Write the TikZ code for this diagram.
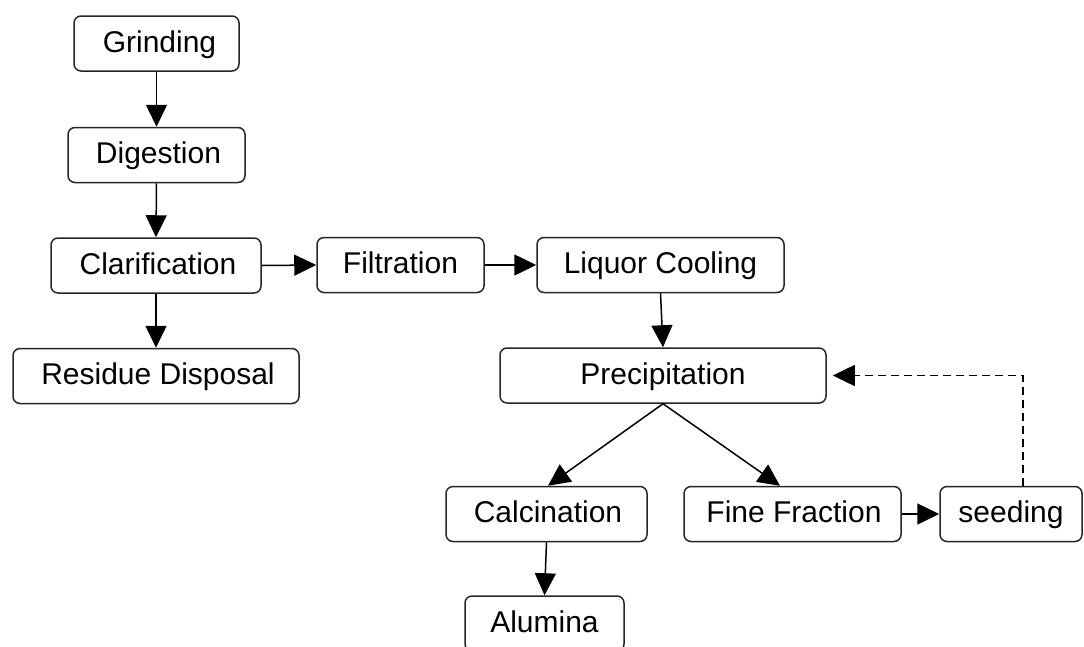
\documentclass[tikz,border=0pt]{standalone}
\usepackage{fontspec}
\setmainfont{Liberation Sans}
\usetikzlibrary{arrows.meta,calc}
\begin{document}
\begin{tikzpicture}[x=1pt,y=-1pt,
  box/.style={draw=black!85, line width=1.5pt, rounded corners=7pt, fill=white,
    minimum height=55pt, inner sep=0pt, text height=21.5pt, text depth=4.5pt,
    font=\fontsize{30}{36}\selectfont},
  flow/.style={line width=1.5pt, -{Triangle[length=22pt,width=21pt]}},
  feedback/.style={line width=1.5pt, dash pattern=on 8pt off 5pt, -{Triangle[length=22pt,width=21pt]}}]
\useasboundingbox (0,0) rectangle (1084,646);
\node[box, minimum width=165pt] (grinding) at (156.5,43.5) {\hspace{6pt}Grinding};
\node[box, minimum width=177pt] (digestion) at (156.5,155) {\hspace{4pt}Digestion};
\node[box, minimum width=210pt] (clarification) at (156,265.5) {\hspace{4pt}Clarification};
\node[box, minimum width=286pt] (residue) at (156,376) {\hspace{4pt}Residue Disposal};
\node[box, minimum width=167pt] (filtration) at (400.5,265) {Filtration};
\node[box, minimum width=247pt] (liquor) at (660.5,265) {Liquor Cooling};
\node[box, minimum width=326pt] (precipitation) at (663,375.5) {Precipitation};
\node[box, minimum width=201pt] (calcination) at (546.5,514) {\hspace{3pt}Calcination};
\node[box, minimum width=217pt] (fine) at (792.5,514) {\hspace{3pt}Fine Fraction};
\node[box, minimum width=142pt] (seeding) at (1011,514) {seeding};
\node[box, minimum width=159pt] (alumina) at (544.5,623.5) {Alumina};
\draw[flow] (grinding.south) -- (digestion.north);
\draw[flow] (digestion.south) -- (clarification.north);
\draw[flow] (clarification.south) -- (residue.north);
\draw[flow] (clarification.east) -- (filtration.west);
\draw[flow] (filtration.east) -- (liquor.west);
\draw[flow] (liquor.south) -- (precipitation.north);
\draw[flow] (precipitation.south) -- ([xshift=1.5pt]calcination.north);
\draw[flow] (precipitation.south) -- ([xshift=-12.5pt]fine.north);
\draw[flow] (fine.east) -- (seeding.west);
\draw[flow] (calcination.south) -- (alumina.north);
\coordinate (seedtop) at ([xshift=12pt]seeding.north);
\draw[feedback, shorten >=6pt] (seedtop) |- (precipitation.east);
\end{tikzpicture}
\end{document}
